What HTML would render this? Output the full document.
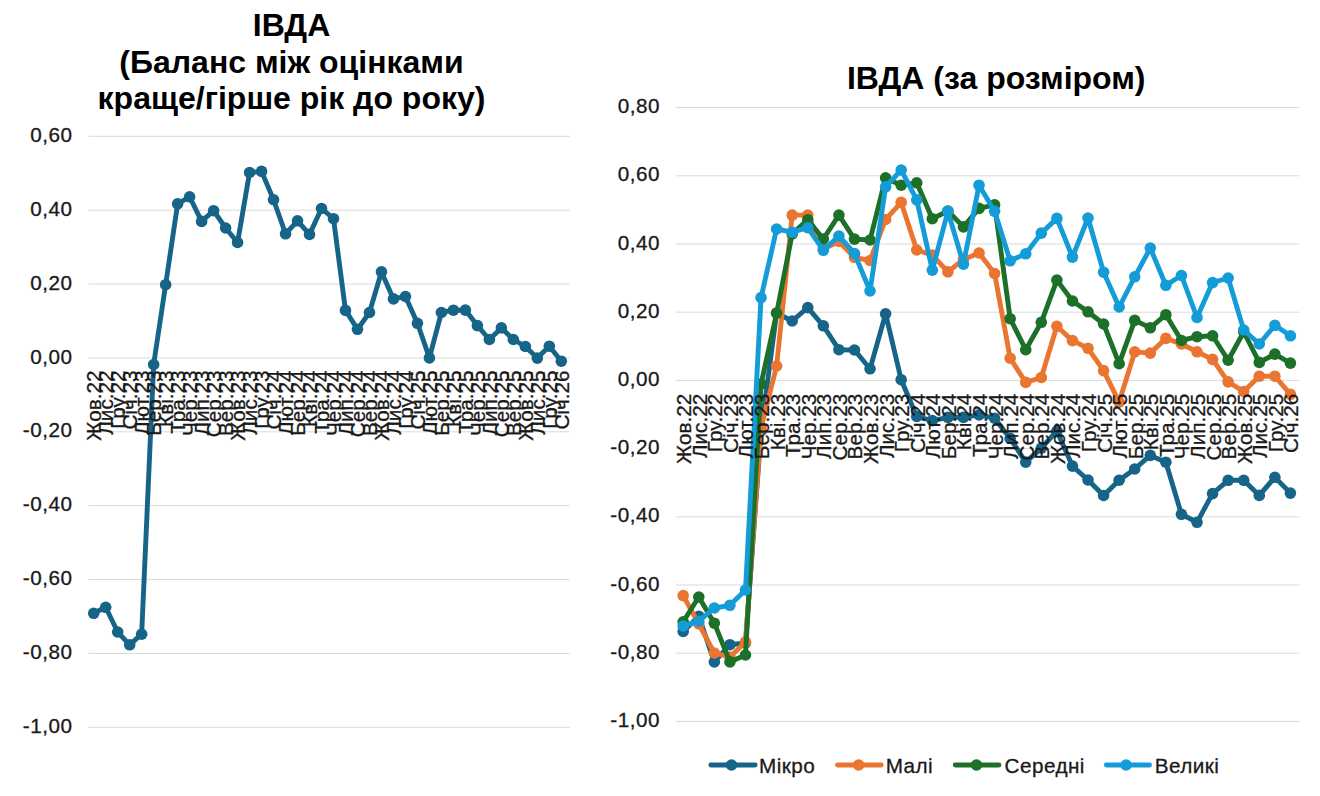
<!DOCTYPE html><html><head><meta charset="utf-8"><style>html,body{margin:0;padding:0;background:#fff;}svg{display:block}text{font-family:"Liberation Sans",sans-serif}</style></head><body>
<svg width="1320" height="796" viewBox="0 0 1320 796">
<rect width="1320" height="796" fill="#fff"/>
<g font-weight="bold" font-size="32" fill="#000" text-anchor="middle">
<text x="291.5" y="36.4">ІВДА</text>
<text x="291.5" y="73.2">(Баланс між оцінками</text>
<text x="291.5" y="109.3">краще/гірше рік до року)</text>
<text x="996.25" y="88.75">ІВДА (за розміром)</text>
</g>
<g stroke="#d9d9d9" stroke-width="1">
<line x1="88.5" x2="569.7" y1="136.30" y2="136.30"/>
<line x1="88.5" x2="569.7" y1="210.18" y2="210.18"/>
<line x1="88.5" x2="569.7" y1="284.05" y2="284.05"/>
<line x1="88.5" x2="569.7" y1="357.93" y2="357.93"/>
<line x1="88.5" x2="569.7" y1="431.80" y2="431.80"/>
<line x1="88.5" x2="569.7" y1="505.68" y2="505.68"/>
<line x1="88.5" x2="569.7" y1="579.55" y2="579.55"/>
<line x1="88.5" x2="569.7" y1="653.42" y2="653.42"/>
<line x1="88.5" x2="569.7" y1="727.30" y2="727.30"/>
<line x1="676" x2="1299.4" y1="107.60" y2="107.60"/>
<line x1="676" x2="1299.4" y1="175.80" y2="175.80"/>
<line x1="676" x2="1299.4" y1="244.00" y2="244.00"/>
<line x1="676" x2="1299.4" y1="312.20" y2="312.20"/>
<line x1="676" x2="1299.4" y1="380.40" y2="380.40"/>
<line x1="676" x2="1299.4" y1="448.60" y2="448.60"/>
<line x1="676" x2="1299.4" y1="516.80" y2="516.80"/>
<line x1="676" x2="1299.4" y1="585.00" y2="585.00"/>
<line x1="676" x2="1299.4" y1="653.20" y2="653.20"/>
<line x1="676" x2="1299.4" y1="721.40" y2="721.40"/>
</g>
<g font-size="20.7" letter-spacing="0.5" fill="#1a1a1a" stroke="#1a1a1a" stroke-width="0.3" text-anchor="end">
<text x="72.5" y="141.90">0,60</text>
<text x="72.5" y="215.78">0,40</text>
<text x="72.5" y="289.65">0,20</text>
<text x="72.5" y="363.53">0,00</text>
<text x="72.5" y="437.40">-0,20</text>
<text x="72.5" y="511.28">-0,40</text>
<text x="72.5" y="585.15">-0,60</text>
<text x="72.5" y="659.02">-0,80</text>
<text x="72.5" y="732.90">-1,00</text>
<text x="660" y="113.20">0,80</text>
<text x="660" y="181.40">0,60</text>
<text x="660" y="249.60">0,40</text>
<text x="660" y="317.80">0,20</text>
<text x="660" y="386.00">0,00</text>
<text x="660" y="454.20">-0,20</text>
<text x="660" y="522.40">-0,40</text>
<text x="660" y="590.60">-0,60</text>
<text x="660" y="658.80">-0,80</text>
<text x="660" y="727.00">-1,00</text>
</g>
<polyline points="93.70,613.30 105.69,607.30 117.68,632.00 129.67,644.80 141.66,634.20 153.65,364.50 165.64,284.70 177.63,203.80 189.62,196.80 201.61,221.40 213.60,210.70 225.59,228.00 237.58,242.50 249.57,172.50 261.56,171.40 273.55,199.70 285.54,233.80 297.53,220.80 309.52,234.40 321.51,208.50 333.50,218.70 345.49,310.40 357.48,329.30 369.47,312.50 381.46,271.90 393.45,298.90 405.44,296.50 417.43,323.30 429.42,357.90 441.41,312.50 453.40,310.20 465.39,310.10 477.38,325.60 489.37,339.50 501.36,327.90 513.35,339.50 525.34,346.50 537.33,358.10 549.32,346.20 561.31,361.20" fill="none" stroke="#176489" stroke-width="4.9" stroke-linejoin="round" stroke-linecap="round"/><g fill="#176489"><circle cx="93.70" cy="613.30" r="5.8"/><circle cx="105.69" cy="607.30" r="5.8"/><circle cx="117.68" cy="632.00" r="5.8"/><circle cx="129.67" cy="644.80" r="5.8"/><circle cx="141.66" cy="634.20" r="5.8"/><circle cx="153.65" cy="364.50" r="5.8"/><circle cx="165.64" cy="284.70" r="5.8"/><circle cx="177.63" cy="203.80" r="5.8"/><circle cx="189.62" cy="196.80" r="5.8"/><circle cx="201.61" cy="221.40" r="5.8"/><circle cx="213.60" cy="210.70" r="5.8"/><circle cx="225.59" cy="228.00" r="5.8"/><circle cx="237.58" cy="242.50" r="5.8"/><circle cx="249.57" cy="172.50" r="5.8"/><circle cx="261.56" cy="171.40" r="5.8"/><circle cx="273.55" cy="199.70" r="5.8"/><circle cx="285.54" cy="233.80" r="5.8"/><circle cx="297.53" cy="220.80" r="5.8"/><circle cx="309.52" cy="234.40" r="5.8"/><circle cx="321.51" cy="208.50" r="5.8"/><circle cx="333.50" cy="218.70" r="5.8"/><circle cx="345.49" cy="310.40" r="5.8"/><circle cx="357.48" cy="329.30" r="5.8"/><circle cx="369.47" cy="312.50" r="5.8"/><circle cx="381.46" cy="271.90" r="5.8"/><circle cx="393.45" cy="298.90" r="5.8"/><circle cx="405.44" cy="296.50" r="5.8"/><circle cx="417.43" cy="323.30" r="5.8"/><circle cx="429.42" cy="357.90" r="5.8"/><circle cx="441.41" cy="312.50" r="5.8"/><circle cx="453.40" cy="310.20" r="5.8"/><circle cx="465.39" cy="310.10" r="5.8"/><circle cx="477.38" cy="325.60" r="5.8"/><circle cx="489.37" cy="339.50" r="5.8"/><circle cx="501.36" cy="327.90" r="5.8"/><circle cx="513.35" cy="339.50" r="5.8"/><circle cx="525.34" cy="346.50" r="5.8"/><circle cx="537.33" cy="358.10" r="5.8"/><circle cx="549.32" cy="346.20" r="5.8"/><circle cx="561.31" cy="361.20" r="5.8"/></g>
<polyline points="683.20,631.50 698.77,616.30 714.34,661.90 729.91,644.70 745.48,643.00 761.05,431.00 776.62,313.00 792.19,321.00 807.76,307.60 823.33,325.80 838.90,349.70 854.47,350.00 870.04,368.80 885.61,313.80 901.18,379.70 916.75,416.50 932.32,420.60 947.89,417.40 963.46,417.40 979.03,414.90 994.60,418.20 1010.17,438.40 1025.74,462.10 1041.31,448.20 1056.88,431.00 1072.45,466.10 1088.02,480.00 1103.59,495.50 1119.16,480.20 1134.73,469.00 1150.30,455.40 1165.87,462.20 1181.44,514.30 1197.01,522.30 1212.58,493.60 1228.15,480.30 1243.72,480.30 1259.29,495.40 1274.86,477.30 1290.43,493.10" fill="none" stroke="#176489" stroke-width="4.9" stroke-linejoin="round" stroke-linecap="round"/><g fill="#176489"><circle cx="683.20" cy="631.50" r="5.8"/><circle cx="698.77" cy="616.30" r="5.8"/><circle cx="714.34" cy="661.90" r="5.8"/><circle cx="729.91" cy="644.70" r="5.8"/><circle cx="745.48" cy="643.00" r="5.8"/><circle cx="761.05" cy="431.00" r="5.8"/><circle cx="776.62" cy="313.00" r="5.8"/><circle cx="792.19" cy="321.00" r="5.8"/><circle cx="807.76" cy="307.60" r="5.8"/><circle cx="823.33" cy="325.80" r="5.8"/><circle cx="838.90" cy="349.70" r="5.8"/><circle cx="854.47" cy="350.00" r="5.8"/><circle cx="870.04" cy="368.80" r="5.8"/><circle cx="885.61" cy="313.80" r="5.8"/><circle cx="901.18" cy="379.70" r="5.8"/><circle cx="916.75" cy="416.50" r="5.8"/><circle cx="932.32" cy="420.60" r="5.8"/><circle cx="947.89" cy="417.40" r="5.8"/><circle cx="963.46" cy="417.40" r="5.8"/><circle cx="979.03" cy="414.90" r="5.8"/><circle cx="994.60" cy="418.20" r="5.8"/><circle cx="1010.17" cy="438.40" r="5.8"/><circle cx="1025.74" cy="462.10" r="5.8"/><circle cx="1041.31" cy="448.20" r="5.8"/><circle cx="1056.88" cy="431.00" r="5.8"/><circle cx="1072.45" cy="466.10" r="5.8"/><circle cx="1088.02" cy="480.00" r="5.8"/><circle cx="1103.59" cy="495.50" r="5.8"/><circle cx="1119.16" cy="480.20" r="5.8"/><circle cx="1134.73" cy="469.00" r="5.8"/><circle cx="1150.30" cy="455.40" r="5.8"/><circle cx="1165.87" cy="462.20" r="5.8"/><circle cx="1181.44" cy="514.30" r="5.8"/><circle cx="1197.01" cy="522.30" r="5.8"/><circle cx="1212.58" cy="493.60" r="5.8"/><circle cx="1228.15" cy="480.30" r="5.8"/><circle cx="1243.72" cy="480.30" r="5.8"/><circle cx="1259.29" cy="495.40" r="5.8"/><circle cx="1274.86" cy="477.30" r="5.8"/><circle cx="1290.43" cy="493.10" r="5.8"/></g>
<polyline points="683.20,595.60 698.77,624.00 714.34,653.00 729.91,657.00 745.48,641.90 761.05,428.00 776.62,366.00 792.19,215.10 807.76,215.10 823.33,249.00 838.90,241.50 854.47,257.40 870.04,260.50 885.61,219.50 901.18,202.40 916.75,250.00 932.32,255.00 947.89,271.80 963.46,259.50 979.03,253.00 994.60,273.50 1010.17,358.20 1025.74,382.40 1041.31,377.50 1056.88,326.30 1072.45,340.60 1088.02,348.30 1103.59,370.60 1119.16,402.10 1134.73,351.90 1150.30,353.10 1165.87,338.40 1181.44,344.00 1197.01,351.80 1212.58,359.40 1228.15,381.90 1243.72,391.50 1259.29,376.20 1274.86,376.20 1290.43,394.30" fill="none" stroke="#ea7531" stroke-width="4.9" stroke-linejoin="round" stroke-linecap="round"/><g fill="#ea7531"><circle cx="683.20" cy="595.60" r="5.8"/><circle cx="698.77" cy="624.00" r="5.8"/><circle cx="714.34" cy="653.00" r="5.8"/><circle cx="729.91" cy="657.00" r="5.8"/><circle cx="745.48" cy="641.90" r="5.8"/><circle cx="761.05" cy="428.00" r="5.8"/><circle cx="776.62" cy="366.00" r="5.8"/><circle cx="792.19" cy="215.10" r="5.8"/><circle cx="807.76" cy="215.10" r="5.8"/><circle cx="823.33" cy="249.00" r="5.8"/><circle cx="838.90" cy="241.50" r="5.8"/><circle cx="854.47" cy="257.40" r="5.8"/><circle cx="870.04" cy="260.50" r="5.8"/><circle cx="885.61" cy="219.50" r="5.8"/><circle cx="901.18" cy="202.40" r="5.8"/><circle cx="916.75" cy="250.00" r="5.8"/><circle cx="932.32" cy="255.00" r="5.8"/><circle cx="947.89" cy="271.80" r="5.8"/><circle cx="963.46" cy="259.50" r="5.8"/><circle cx="979.03" cy="253.00" r="5.8"/><circle cx="994.60" cy="273.50" r="5.8"/><circle cx="1010.17" cy="358.20" r="5.8"/><circle cx="1025.74" cy="382.40" r="5.8"/><circle cx="1041.31" cy="377.50" r="5.8"/><circle cx="1056.88" cy="326.30" r="5.8"/><circle cx="1072.45" cy="340.60" r="5.8"/><circle cx="1088.02" cy="348.30" r="5.8"/><circle cx="1103.59" cy="370.60" r="5.8"/><circle cx="1119.16" cy="402.10" r="5.8"/><circle cx="1134.73" cy="351.90" r="5.8"/><circle cx="1150.30" cy="353.10" r="5.8"/><circle cx="1165.87" cy="338.40" r="5.8"/><circle cx="1181.44" cy="344.00" r="5.8"/><circle cx="1197.01" cy="351.80" r="5.8"/><circle cx="1212.58" cy="359.40" r="5.8"/><circle cx="1228.15" cy="381.90" r="5.8"/><circle cx="1243.72" cy="391.50" r="5.8"/><circle cx="1259.29" cy="376.20" r="5.8"/><circle cx="1274.86" cy="376.20" r="5.8"/><circle cx="1290.43" cy="394.30" r="5.8"/></g>
<polyline points="683.20,621.80 698.77,597.00 714.34,623.20 729.91,661.90 745.48,655.00 761.05,384.00 776.62,313.20 792.19,233.80 807.76,219.70 823.33,239.00 838.90,215.10 854.47,239.10 870.04,240.00 885.61,177.90 901.18,185.20 916.75,182.80 932.32,218.70 947.89,211.00 963.46,226.90 979.03,208.40 994.60,204.80 1010.17,318.70 1025.74,349.70 1041.31,322.30 1056.88,280.10 1072.45,301.00 1088.02,311.80 1103.59,324.00 1119.16,363.70 1134.73,320.40 1150.30,327.80 1165.87,314.70 1181.44,340.50 1197.01,336.70 1212.58,335.80 1228.15,360.20 1243.72,332.00 1259.29,362.40 1274.86,354.10 1290.43,363.10" fill="none" stroke="#1c7028" stroke-width="4.9" stroke-linejoin="round" stroke-linecap="round"/><g fill="#1c7028"><circle cx="683.20" cy="621.80" r="5.8"/><circle cx="698.77" cy="597.00" r="5.8"/><circle cx="714.34" cy="623.20" r="5.8"/><circle cx="729.91" cy="661.90" r="5.8"/><circle cx="745.48" cy="655.00" r="5.8"/><circle cx="761.05" cy="384.00" r="5.8"/><circle cx="776.62" cy="313.20" r="5.8"/><circle cx="792.19" cy="233.80" r="5.8"/><circle cx="807.76" cy="219.70" r="5.8"/><circle cx="823.33" cy="239.00" r="5.8"/><circle cx="838.90" cy="215.10" r="5.8"/><circle cx="854.47" cy="239.10" r="5.8"/><circle cx="870.04" cy="240.00" r="5.8"/><circle cx="885.61" cy="177.90" r="5.8"/><circle cx="901.18" cy="185.20" r="5.8"/><circle cx="916.75" cy="182.80" r="5.8"/><circle cx="932.32" cy="218.70" r="5.8"/><circle cx="947.89" cy="211.00" r="5.8"/><circle cx="963.46" cy="226.90" r="5.8"/><circle cx="979.03" cy="208.40" r="5.8"/><circle cx="994.60" cy="204.80" r="5.8"/><circle cx="1010.17" cy="318.70" r="5.8"/><circle cx="1025.74" cy="349.70" r="5.8"/><circle cx="1041.31" cy="322.30" r="5.8"/><circle cx="1056.88" cy="280.10" r="5.8"/><circle cx="1072.45" cy="301.00" r="5.8"/><circle cx="1088.02" cy="311.80" r="5.8"/><circle cx="1103.59" cy="324.00" r="5.8"/><circle cx="1119.16" cy="363.70" r="5.8"/><circle cx="1134.73" cy="320.40" r="5.8"/><circle cx="1150.30" cy="327.80" r="5.8"/><circle cx="1165.87" cy="314.70" r="5.8"/><circle cx="1181.44" cy="340.50" r="5.8"/><circle cx="1197.01" cy="336.70" r="5.8"/><circle cx="1212.58" cy="335.80" r="5.8"/><circle cx="1228.15" cy="360.20" r="5.8"/><circle cx="1243.72" cy="332.00" r="5.8"/><circle cx="1259.29" cy="362.40" r="5.8"/><circle cx="1274.86" cy="354.10" r="5.8"/><circle cx="1290.43" cy="363.10" r="5.8"/></g>
<polyline points="683.20,626.00 698.77,621.20 714.34,608.00 729.91,605.30 745.48,590.00 761.05,297.60 776.62,229.00 792.19,232.20 807.76,227.70 823.33,250.30 838.90,236.00 854.47,253.50 870.04,291.00 885.61,186.80 901.18,170.00 916.75,199.90 932.32,270.10 947.89,211.30 963.46,264.10 979.03,185.20 994.60,211.30 1010.17,260.80 1025.74,253.80 1041.31,233.10 1056.88,218.40 1072.45,257.10 1088.02,218.00 1103.59,272.20 1119.16,307.00 1134.73,276.80 1150.30,248.10 1165.87,285.30 1181.44,275.50 1197.01,317.50 1212.58,282.60 1228.15,278.00 1243.72,330.00 1259.29,344.00 1274.86,325.30 1290.43,335.80" fill="none" stroke="#139cd8" stroke-width="4.9" stroke-linejoin="round" stroke-linecap="round"/><g fill="#139cd8"><circle cx="683.20" cy="626.00" r="5.8"/><circle cx="698.77" cy="621.20" r="5.8"/><circle cx="714.34" cy="608.00" r="5.8"/><circle cx="729.91" cy="605.30" r="5.8"/><circle cx="745.48" cy="590.00" r="5.8"/><circle cx="761.05" cy="297.60" r="5.8"/><circle cx="776.62" cy="229.00" r="5.8"/><circle cx="792.19" cy="232.20" r="5.8"/><circle cx="807.76" cy="227.70" r="5.8"/><circle cx="823.33" cy="250.30" r="5.8"/><circle cx="838.90" cy="236.00" r="5.8"/><circle cx="854.47" cy="253.50" r="5.8"/><circle cx="870.04" cy="291.00" r="5.8"/><circle cx="885.61" cy="186.80" r="5.8"/><circle cx="901.18" cy="170.00" r="5.8"/><circle cx="916.75" cy="199.90" r="5.8"/><circle cx="932.32" cy="270.10" r="5.8"/><circle cx="947.89" cy="211.30" r="5.8"/><circle cx="963.46" cy="264.10" r="5.8"/><circle cx="979.03" cy="185.20" r="5.8"/><circle cx="994.60" cy="211.30" r="5.8"/><circle cx="1010.17" cy="260.80" r="5.8"/><circle cx="1025.74" cy="253.80" r="5.8"/><circle cx="1041.31" cy="233.10" r="5.8"/><circle cx="1056.88" cy="218.40" r="5.8"/><circle cx="1072.45" cy="257.10" r="5.8"/><circle cx="1088.02" cy="218.00" r="5.8"/><circle cx="1103.59" cy="272.20" r="5.8"/><circle cx="1119.16" cy="307.00" r="5.8"/><circle cx="1134.73" cy="276.80" r="5.8"/><circle cx="1150.30" cy="248.10" r="5.8"/><circle cx="1165.87" cy="285.30" r="5.8"/><circle cx="1181.44" cy="275.50" r="5.8"/><circle cx="1197.01" cy="317.50" r="5.8"/><circle cx="1212.58" cy="282.60" r="5.8"/><circle cx="1228.15" cy="278.00" r="5.8"/><circle cx="1243.72" cy="330.00" r="5.8"/><circle cx="1259.29" cy="344.00" r="5.8"/><circle cx="1274.86" cy="325.30" r="5.8"/><circle cx="1290.43" cy="335.80" r="5.8"/></g>
<g font-size="20.7" fill="#1a1a1a" stroke="#1a1a1a" stroke-width="0.3" text-anchor="end">
<text transform="translate(101.30,370.50) rotate(-90)">Жов.22</text>
<text transform="translate(113.29,370.50) rotate(-90)">Лис.22</text>
<text transform="translate(125.28,370.50) rotate(-90)">Гру.22</text>
<text transform="translate(137.27,370.50) rotate(-90)">Січ.23</text>
<text transform="translate(149.26,370.50) rotate(-90)">Лют.23</text>
<text transform="translate(161.25,370.50) rotate(-90)">Бер.23</text>
<text transform="translate(173.24,370.50) rotate(-90)">Кві.23</text>
<text transform="translate(185.23,370.50) rotate(-90)">Тра.23</text>
<text transform="translate(197.22,370.50) rotate(-90)">Чер.23</text>
<text transform="translate(209.21,370.50) rotate(-90)">Лип.23</text>
<text transform="translate(221.20,370.50) rotate(-90)">Сер.23</text>
<text transform="translate(233.19,370.50) rotate(-90)">Вер.23</text>
<text transform="translate(245.18,370.50) rotate(-90)">Жов.23</text>
<text transform="translate(257.17,370.50) rotate(-90)">Лис.23</text>
<text transform="translate(269.16,370.50) rotate(-90)">Гру.23</text>
<text transform="translate(281.15,370.50) rotate(-90)">Січ.24</text>
<text transform="translate(293.14,370.50) rotate(-90)">Лют.24</text>
<text transform="translate(305.13,370.50) rotate(-90)">Бер.24</text>
<text transform="translate(317.12,370.50) rotate(-90)">Кві.24</text>
<text transform="translate(329.11,370.50) rotate(-90)">Тра.24</text>
<text transform="translate(341.10,370.50) rotate(-90)">Чер.24</text>
<text transform="translate(353.09,370.50) rotate(-90)">Лип.24</text>
<text transform="translate(365.08,370.50) rotate(-90)">Сер.24</text>
<text transform="translate(377.07,370.50) rotate(-90)">Вер.24</text>
<text transform="translate(389.06,370.50) rotate(-90)">Жов.24</text>
<text transform="translate(401.05,370.50) rotate(-90)">Лис.24</text>
<text transform="translate(413.04,370.50) rotate(-90)">Гру.24</text>
<text transform="translate(425.03,370.50) rotate(-90)">Січ.25</text>
<text transform="translate(437.02,370.50) rotate(-90)">Лют.25</text>
<text transform="translate(449.01,370.50) rotate(-90)">Бер.25</text>
<text transform="translate(461.00,370.50) rotate(-90)">Кві.25</text>
<text transform="translate(472.99,370.50) rotate(-90)">Тра.25</text>
<text transform="translate(484.98,370.50) rotate(-90)">Чер.25</text>
<text transform="translate(496.97,370.50) rotate(-90)">Лип.25</text>
<text transform="translate(508.96,370.50) rotate(-90)">Сер.25</text>
<text transform="translate(520.95,370.50) rotate(-90)">Вер.25</text>
<text transform="translate(532.94,370.50) rotate(-90)">Жов.25</text>
<text transform="translate(544.93,370.50) rotate(-90)">Лис.25</text>
<text transform="translate(556.92,370.50) rotate(-90)">Гру.25</text>
<text transform="translate(568.91,370.50) rotate(-90)">Січ.26</text>
<text transform="translate(691.20,393.80) rotate(-90)">Жов.22</text>
<text transform="translate(706.77,393.80) rotate(-90)">Лис.22</text>
<text transform="translate(722.34,393.80) rotate(-90)">Гру.22</text>
<text transform="translate(737.91,393.80) rotate(-90)">Січ.23</text>
<text transform="translate(753.48,393.80) rotate(-90)">Лют.23</text>
<text transform="translate(769.05,393.80) rotate(-90)">Бер.23</text>
<text transform="translate(784.62,393.80) rotate(-90)">Кві.23</text>
<text transform="translate(800.19,393.80) rotate(-90)">Тра.23</text>
<text transform="translate(815.76,393.80) rotate(-90)">Чер.23</text>
<text transform="translate(831.33,393.80) rotate(-90)">Лип.23</text>
<text transform="translate(846.90,393.80) rotate(-90)">Сер.23</text>
<text transform="translate(862.47,393.80) rotate(-90)">Вер.23</text>
<text transform="translate(878.04,393.80) rotate(-90)">Жов.23</text>
<text transform="translate(893.61,393.80) rotate(-90)">Лис.23</text>
<text transform="translate(909.18,393.80) rotate(-90)">Гру.23</text>
<text transform="translate(924.75,393.80) rotate(-90)">Січ.24</text>
<text transform="translate(940.32,393.80) rotate(-90)">Лют.24</text>
<text transform="translate(955.89,393.80) rotate(-90)">Бер.24</text>
<text transform="translate(971.46,393.80) rotate(-90)">Кві.24</text>
<text transform="translate(987.03,393.80) rotate(-90)">Тра.24</text>
<text transform="translate(1002.60,393.80) rotate(-90)">Чер.24</text>
<text transform="translate(1018.17,393.80) rotate(-90)">Лип.24</text>
<text transform="translate(1033.74,393.80) rotate(-90)">Сер.24</text>
<text transform="translate(1049.31,393.80) rotate(-90)">Вер.24</text>
<text transform="translate(1064.88,393.80) rotate(-90)">Жов.24</text>
<text transform="translate(1080.45,393.80) rotate(-90)">Лис.24</text>
<text transform="translate(1096.02,393.80) rotate(-90)">Гру.24</text>
<text transform="translate(1111.59,393.80) rotate(-90)">Січ.25</text>
<text transform="translate(1127.16,393.80) rotate(-90)">Лют.25</text>
<text transform="translate(1142.73,393.80) rotate(-90)">Бер.25</text>
<text transform="translate(1158.30,393.80) rotate(-90)">Кві.25</text>
<text transform="translate(1173.87,393.80) rotate(-90)">Тра.25</text>
<text transform="translate(1189.44,393.80) rotate(-90)">Чер.25</text>
<text transform="translate(1205.01,393.80) rotate(-90)">Лип.25</text>
<text transform="translate(1220.58,393.80) rotate(-90)">Сер.25</text>
<text transform="translate(1236.15,393.80) rotate(-90)">Вер.25</text>
<text transform="translate(1251.72,393.80) rotate(-90)">Жов.25</text>
<text transform="translate(1267.29,393.80) rotate(-90)">Лис.25</text>
<text transform="translate(1282.86,393.80) rotate(-90)">Гру.25</text>
<text transform="translate(1298.43,393.80) rotate(-90)">Січ.26</text>
</g>
<line x1="710.9" x2="755.1" y1="765" y2="765" stroke="#176489" stroke-width="4.9" stroke-linecap="round"/>
<circle cx="731.5" cy="765" r="5.8" fill="#176489"/>
<text x="759.1" y="772.6" font-size="20.7" letter-spacing="0.45" fill="#1a1a1a" stroke="#1a1a1a" stroke-width="0.3">Мікро</text>
<line x1="837.5" x2="881.2" y1="765" y2="765" stroke="#ea7531" stroke-width="4.9" stroke-linecap="round"/>
<circle cx="858.6" cy="765" r="5.8" fill="#ea7531"/>
<text x="885.7" y="772.6" font-size="20.7" letter-spacing="0.45" fill="#1a1a1a" stroke="#1a1a1a" stroke-width="0.3">Малі</text>
<line x1="955.2" x2="998.9" y1="765" y2="765" stroke="#1c7028" stroke-width="4.9" stroke-linecap="round"/>
<circle cx="976.5" cy="765" r="5.8" fill="#1c7028"/>
<text x="1004.6" y="772.6" font-size="20.7" letter-spacing="0.45" fill="#1a1a1a" stroke="#1a1a1a" stroke-width="0.3">Середні</text>
<line x1="1106.4" x2="1149.5" y1="765" y2="765" stroke="#139cd8" stroke-width="4.9" stroke-linecap="round"/>
<circle cx="1126.1" cy="765" r="5.8" fill="#139cd8"/>
<text x="1154.8" y="772.6" font-size="20.7" letter-spacing="0.45" fill="#1a1a1a" stroke="#1a1a1a" stroke-width="0.3">Великі</text>
</svg></body></html>
